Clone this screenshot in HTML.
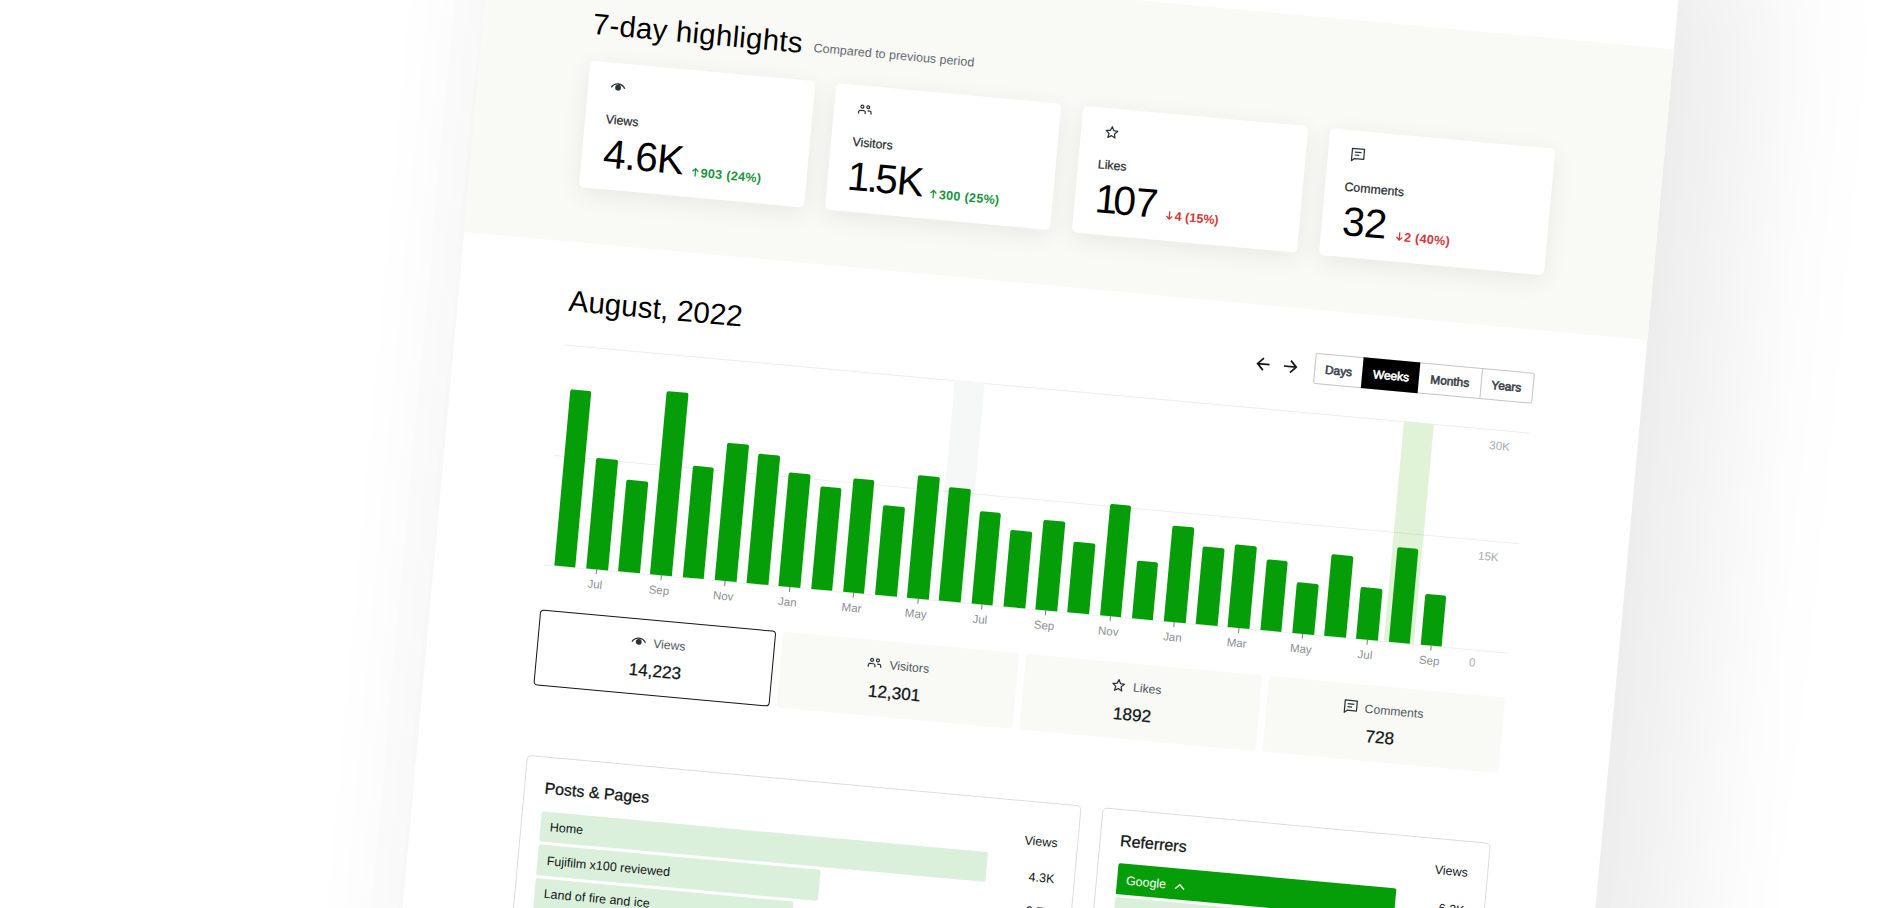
<!DOCTYPE html>
<html><head><meta charset="utf-8"><title>Stats</title>
<style>
html,body{margin:0;padding:0}
body{width:1891px;height:908px;overflow:hidden;background:#fff;position:relative;font-family:"Liberation Sans",Arial,sans-serif}
#p{position:absolute;left:0;top:0;width:0;height:0;transform-origin:0 0;transform:translate(491.594px,-66.856px) rotate(5.22deg)}
.b{position:absolute}
.t{position:absolute;white-space:nowrap}
.ic{display:block}
.ar{display:inline-block;vertical-align:baseline;margin-right:1.500px;position:relative;top:0.300px}
.row{display:flex;align-items:center;justify-content:center}
.ici{display:block;width:20px;height:20px}
svg{overflow:visible}
</style></head><body>
<div id="p">
<div class="b" style="left:0.00px;top:-120.00px;width:1188.00px;height:1300.00px;background:#fff;box-shadow:80px 10px 140px rgba(0,0,0,0.08),-30px 0 80px rgba(0,0,0,0.03);"></div>
<div class="b" style="left:0.00px;top:8.00px;width:1188.00px;height:292.00px;background:#f9f9f6;"></div>
<div class="t " style="top:66.11px;font-size:29.4px;line-height:29.4px;color:#000;font-weight:400;letter-spacing:0.3px;left:109.20px;">7-day highlights</div>
<div class="t " style="top:79.42px;font-size:12.5px;line-height:12.5px;color:#646970;font-weight:400;left:331.20px;">Compared to previous period</div>
<div class="b" style="left:109.50px;top:118.40px;width:226.00px;height:126.20px;background:#fff;border-radius:5px;box-shadow:0 6px 24px rgba(0,0,0,0.07);"></div>
<div class="b" style="left:130.20px;top:131.80px;width:20px;height:20px;color:#2c3338"><svg class="ic" viewBox="0 0 24 24" width="20" height="20"><path d="M3.9 12.9C5.6 9.9 8.5 8 12 8s6.400 1.900 8.100 4.900" fill="none" stroke="currentColor" stroke-width="1.6" stroke-linecap="butt"/><circle cx="12" cy="12.5" r="3.5" fill="currentColor"/></svg></div>
<div class="t " style="top:168.55px;font-size:12.35px;line-height:12.35px;color:#23282d;font-weight:400;left:130.70px;-webkit-text-stroke:0.2px #23282d;">Views</div>
<div class="t" style="left:131.40px;top:188.83px;font-size:40.6px;line-height:40.6px;color:#000;white-space:nowrap"><span style="letter-spacing:-0.8px">4.6K</span><span style="font-size:12.6px;font-weight:700;color:#1a933c;letter-spacing:0.3px;margin-left:9.5px;position:relative;top:1.3px"><svg class="ar" viewBox="0 0 8 10" width="7.4" height="9.2"><path d="M4 9.600V1.200M0.800 4.300L4 1.100L7.200 4.300" fill="none" stroke="currentColor" stroke-width="1.400"/></svg>903 (24%)</span></div>
<div class="b" style="left:357.17px;top:118.40px;width:226.00px;height:126.20px;background:#fff;border-radius:5px;box-shadow:0 6px 24px rgba(0,0,0,0.07);"></div>
<div class="b" style="left:377.87px;top:131.80px;width:20px;height:20px;color:#2c3338"><svg class="ic" viewBox="0 0 24 24" width="20" height="20"><path fill="currentColor" fill-rule="evenodd" d="M15.5 9.5a1 1 0 100-2 1 1 0 000 2zm0 1.5a2.5 2.5 0 100-5 2.500 2.500 0 000 5zm-2.250 6v-2a2.750 2.750 0 00-2.750-2.750h-4A2.750 2.750 0 003.750 15v2h1.500v-2c0-.690.560-1.250 1.250-1.250h4c.690 0 1.250.560 1.250 1.250v2h1.500zm7-2v2h-1.500v-2c0-.690-.560-1.250-1.250-1.250H15v-1.500h2.500A2.750 2.750 0 0120.250 15zM9.500 8.500a1 1 0 11-2 0 1 1 0 012 0zm1.500 0a2.500 2.500 0 11-5 0 2.500 2.500 0 015 0z"/></svg></div>
<div class="t " style="top:168.55px;font-size:12.35px;line-height:12.35px;color:#23282d;font-weight:400;left:378.47px;-webkit-text-stroke:0.2px #23282d;">Visitors</div>
<div class="t" style="left:379.07px;top:188.83px;font-size:40.6px;line-height:40.6px;color:#000;white-space:nowrap"><span style="letter-spacing:-1px"><span style="margin-left:-2.500px;margin-right:0.500px">1</span><span style="margin:0 -2.200px">.</span>5K</span><span style="font-size:12.6px;font-weight:700;color:#1a933c;letter-spacing:0.3px;margin-left:8.2px;position:relative;top:1.3px"><svg class="ar" viewBox="0 0 8 10" width="7.4" height="9.2"><path d="M4 9.600V1.200M0.800 4.300L4 1.100L7.200 4.300" fill="none" stroke="currentColor" stroke-width="1.400"/></svg>300 (25%)</span></div>
<div class="b" style="left:604.84px;top:118.40px;width:226.00px;height:126.20px;background:#fff;border-radius:5px;box-shadow:0 6px 24px rgba(0,0,0,0.07);"></div>
<div class="b" style="left:625.54px;top:131.80px;width:20px;height:20px;color:#2c3338"><svg class="ic" viewBox="0 0 24 24" width="20" height="20"><path d="M11.80 5.20L13.83 9.71L18.74 10.24L15.08 13.57L16.09 18.41L11.80 15.95L7.51 18.41L8.52 13.57L4.86 10.24L9.77 9.71Z" fill="none" stroke="currentColor" stroke-width="1.5" stroke-linejoin="round"/></svg></div>
<div class="t " style="top:168.55px;font-size:12.35px;line-height:12.35px;color:#23282d;font-weight:400;left:624.84px;-webkit-text-stroke:0.2px #23282d;">Likes</div>
<div class="t" style="left:626.74px;top:188.83px;font-size:40.6px;line-height:40.6px;color:#000;white-space:nowrap"><span style="letter-spacing:-0.5px"><span style="margin-left:-1.500px;margin-right:-3.800px">1</span>07</span><span style="font-size:12.6px;font-weight:700;color:#d63638;letter-spacing:0.0px;margin-left:9.5px;position:relative;top:1.3px"><svg class="ar" viewBox="0 0 8 10" width="7.4" height="9.2"><path d="M4 0.400V8.800M0.800 5.700L4 8.900L7.200 5.700" fill="none" stroke="currentColor" stroke-width="1.400"/></svg>4 (15%)</span></div>
<div class="b" style="left:852.51px;top:118.40px;width:226.00px;height:126.20px;background:#fff;border-radius:5px;box-shadow:0 6px 24px rgba(0,0,0,0.07);"></div>
<div class="b" style="left:873.21px;top:131.80px;width:20px;height:20px;color:#2c3338"><svg class="ic" viewBox="0 0 24 24" width="20" height="20"><path d="M4.750 4.750H19.250V16.750H8L4.750 19.600Z" fill="none" stroke="currentColor" stroke-width="1.5" stroke-linejoin="round"/><path d="M8 9H16M8 12.500H13.500" fill="none" stroke="currentColor" stroke-width="1.5"/></svg></div>
<div class="t " style="top:168.55px;font-size:12.35px;line-height:12.35px;color:#23282d;font-weight:400;left:872.51px;-webkit-text-stroke:0.2px #23282d;">Comments</div>
<div class="t" style="left:873.51px;top:188.83px;font-size:40.6px;line-height:40.6px;color:#000;white-space:nowrap"><span style="letter-spacing:-0.3px">32</span><span style="font-size:12.6px;font-weight:700;color:#d63638;letter-spacing:0.3px;margin-left:9.5px;position:relative;top:1.3px"><svg class="ar" viewBox="0 0 8 10" width="7.4" height="9.2"><path d="M4 0.400V8.800M0.800 5.700L4 8.900L7.200 5.700" fill="none" stroke="currentColor" stroke-width="1.400"/></svg>2 (40%)</span></div>
<div class="t " style="top:343.94px;font-size:29.6px;line-height:29.6px;color:#000;font-weight:400;left:110.50px;">August, 2022</div>
<div class="b" style="left:858.70px;top:343.40px;width:220.00px;height:30.90px;border:1px solid #c3c4c7;border-radius:2px;box-sizing:border-box;background:#fff;"></div>
<div class="b" style="left:906.50px;top:343.40px;width:57.50px;height:30.90px;background:#000;"></div>
<div class="b" style="left:1025.70px;top:343.40px;width:1.00px;height:30.90px;background:#c3c4c7;"></div>
<div class="t " style="top:353.93px;font-size:11.9px;line-height:11.9px;color:#3c434a;font-weight:400;left:883.40px;transform:translateX(-50%);-webkit-text-stroke:0.6px #3c434a;">Days</div>
<div class="t " style="top:353.93px;font-size:11.9px;line-height:11.9px;color:#fff;font-weight:400;left:936.00px;transform:translateX(-50%);-webkit-text-stroke:0.6px #fff;">Weeks</div>
<div class="t " style="top:353.93px;font-size:11.9px;line-height:11.9px;color:#3c434a;font-weight:400;left:995.00px;transform:translateX(-50%);-webkit-text-stroke:0.6px #3c434a;">Months</div>
<div class="t " style="top:353.93px;font-size:11.9px;line-height:11.9px;color:#3c434a;font-weight:400;left:1051.80px;transform:translateX(-50%);-webkit-text-stroke:0.6px #3c434a;">Years</div>
<div class="b" style="left:797.40px;top:349.00px;width:20px;height:20px"><svg viewBox="0 0 20 20" width="20" height="20"><path d="M17 10H5.200M10.800 4L5 10L10.800 16" fill="none" stroke="#101517" stroke-width="1.700"/></svg></div>
<div class="b" style="left:824.40px;top:349.00px;width:20px;height:20px"><svg viewBox="0 0 20 20" width="20" height="20"><path d="M4.400 10H16.500M11 4L16.800 10L11 16" fill="none" stroke="#101517" stroke-width="1.700"/></svg></div>
<div class="b" style="left:110.00px;top:403.00px;width:968.50px;height:1.00px;background:#ededed;"></div>
<div class="b" style="left:502.00px;top:403.20px;width:30.20px;height:221.10px;background:#f6f7f7;"></div>
<div class="b" style="left:953.40px;top:403.20px;width:29.90px;height:221.10px;background:#e0f3d6;"></div>
<div class="b" style="left:110.00px;top:513.80px;width:968.50px;height:1.00px;background:rgba(0,0,0,0.07);"></div>
<div class="b" style="left:110.00px;top:623.80px;width:968.50px;height:1.00px;background:rgba(0,0,0,0.07);"></div>
<div class="b" style="left:119.70px;top:446.80px;width:21.70px;height:177.50px;background:#069e08;border-radius:2px 2px 0 0;"></div>
<div class="b" style="left:151.93px;top:512.50px;width:21.70px;height:111.80px;background:#069e08;border-radius:2px 2px 0 0;"></div>
<div class="b" style="left:162.28px;top:624.30px;width:1.00px;height:4.60px;background:#787c82;"></div>
<div class="t " style="top:634.27px;font-size:11.5px;line-height:11.5px;color:#8c8f94;font-weight:400;left:162.08px;transform:translateX(-50%);">Jul</div>
<div class="b" style="left:184.15px;top:531.50px;width:21.70px;height:92.80px;background:#069e08;border-radius:2px 2px 0 0;"></div>
<div class="b" style="left:216.38px;top:439.70px;width:21.70px;height:184.60px;background:#069e08;border-radius:2px 2px 0 0;"></div>
<div class="b" style="left:226.72px;top:624.30px;width:1.00px;height:4.60px;background:#787c82;"></div>
<div class="t " style="top:634.27px;font-size:11.5px;line-height:11.5px;color:#8c8f94;font-weight:400;left:226.53px;transform:translateX(-50%);">Sep</div>
<div class="b" style="left:248.60px;top:512.10px;width:21.70px;height:112.20px;background:#069e08;border-radius:2px 2px 0 0;"></div>
<div class="b" style="left:280.82px;top:486.30px;width:21.70px;height:138.00px;background:#069e08;border-radius:2px 2px 0 0;"></div>
<div class="b" style="left:291.18px;top:624.30px;width:1.00px;height:4.60px;background:#787c82;"></div>
<div class="t " style="top:634.27px;font-size:11.5px;line-height:11.5px;color:#8c8f94;font-weight:400;left:290.98px;transform:translateX(-50%);">Nov</div>
<div class="b" style="left:313.05px;top:493.90px;width:21.70px;height:130.40px;background:#069e08;border-radius:2px 2px 0 0;"></div>
<div class="b" style="left:345.28px;top:510.00px;width:21.70px;height:114.30px;background:#069e08;border-radius:2px 2px 0 0;"></div>
<div class="b" style="left:355.63px;top:624.30px;width:1.00px;height:4.60px;background:#787c82;"></div>
<div class="t " style="top:634.27px;font-size:11.5px;line-height:11.5px;color:#8c8f94;font-weight:400;left:355.43px;transform:translateX(-50%);">Jan</div>
<div class="b" style="left:377.50px;top:521.00px;width:21.70px;height:103.30px;background:#069e08;border-radius:2px 2px 0 0;"></div>
<div class="b" style="left:409.73px;top:510.00px;width:21.70px;height:114.30px;background:#069e08;border-radius:2px 2px 0 0;"></div>
<div class="b" style="left:420.08px;top:624.30px;width:1.00px;height:4.60px;background:#787c82;"></div>
<div class="t " style="top:634.27px;font-size:11.5px;line-height:11.5px;color:#8c8f94;font-weight:400;left:419.88px;transform:translateX(-50%);">Mar</div>
<div class="b" style="left:441.95px;top:533.80px;width:21.70px;height:90.50px;background:#069e08;border-radius:2px 2px 0 0;"></div>
<div class="b" style="left:474.18px;top:501.10px;width:21.70px;height:123.20px;background:#069e08;border-radius:2px 2px 0 0;"></div>
<div class="b" style="left:484.53px;top:624.30px;width:1.00px;height:4.60px;background:#787c82;"></div>
<div class="t " style="top:634.27px;font-size:11.5px;line-height:11.5px;color:#8c8f94;font-weight:400;left:484.33px;transform:translateX(-50%);">May</div>
<div class="b" style="left:506.40px;top:509.50px;width:21.70px;height:114.80px;background:#069e08;border-radius:2px 2px 0 0;"></div>
<div class="b" style="left:538.62px;top:530.90px;width:21.70px;height:93.40px;background:#069e08;border-radius:2px 2px 0 0;"></div>
<div class="b" style="left:548.98px;top:624.30px;width:1.00px;height:4.60px;background:#787c82;"></div>
<div class="t " style="top:634.27px;font-size:11.5px;line-height:11.5px;color:#8c8f94;font-weight:400;left:548.77px;transform:translateX(-50%);">Jul</div>
<div class="b" style="left:570.85px;top:546.60px;width:21.70px;height:77.70px;background:#069e08;border-radius:2px 2px 0 0;"></div>
<div class="b" style="left:603.08px;top:533.70px;width:21.70px;height:90.60px;background:#069e08;border-radius:2px 2px 0 0;"></div>
<div class="b" style="left:613.43px;top:624.30px;width:1.00px;height:4.60px;background:#787c82;"></div>
<div class="t " style="top:634.27px;font-size:11.5px;line-height:11.5px;color:#8c8f94;font-weight:400;left:613.23px;transform:translateX(-50%);">Sep</div>
<div class="b" style="left:635.30px;top:553.40px;width:21.70px;height:70.90px;background:#069e08;border-radius:2px 2px 0 0;"></div>
<div class="b" style="left:667.53px;top:512.10px;width:21.70px;height:112.20px;background:#069e08;border-radius:2px 2px 0 0;"></div>
<div class="b" style="left:677.88px;top:624.30px;width:1.00px;height:4.60px;background:#787c82;"></div>
<div class="t " style="top:634.27px;font-size:11.5px;line-height:11.5px;color:#8c8f94;font-weight:400;left:677.68px;transform:translateX(-50%);">Nov</div>
<div class="b" style="left:699.75px;top:566.20px;width:21.70px;height:58.10px;background:#069e08;border-radius:2px 2px 0 0;"></div>
<div class="b" style="left:731.98px;top:528.20px;width:21.70px;height:96.10px;background:#069e08;border-radius:2px 2px 0 0;"></div>
<div class="b" style="left:742.33px;top:624.30px;width:1.00px;height:4.60px;background:#787c82;"></div>
<div class="t " style="top:634.27px;font-size:11.5px;line-height:11.5px;color:#8c8f94;font-weight:400;left:742.12px;transform:translateX(-50%);">Jan</div>
<div class="b" style="left:764.20px;top:546.30px;width:21.70px;height:78.00px;background:#069e08;border-radius:2px 2px 0 0;"></div>
<div class="b" style="left:796.43px;top:541.20px;width:21.70px;height:83.10px;background:#069e08;border-radius:2px 2px 0 0;"></div>
<div class="b" style="left:806.78px;top:624.30px;width:1.00px;height:4.60px;background:#787c82;"></div>
<div class="t " style="top:634.27px;font-size:11.5px;line-height:11.5px;color:#8c8f94;font-weight:400;left:806.58px;transform:translateX(-50%);">Mar</div>
<div class="b" style="left:828.65px;top:553.40px;width:21.70px;height:70.90px;background:#069e08;border-radius:2px 2px 0 0;"></div>
<div class="b" style="left:860.88px;top:572.50px;width:21.70px;height:51.80px;background:#069e08;border-radius:2px 2px 0 0;"></div>
<div class="b" style="left:871.23px;top:624.30px;width:1.00px;height:4.60px;background:#787c82;"></div>
<div class="t " style="top:634.27px;font-size:11.5px;line-height:11.5px;color:#8c8f94;font-weight:400;left:871.03px;transform:translateX(-50%);">May</div>
<div class="b" style="left:893.10px;top:541.50px;width:21.70px;height:82.80px;background:#069e08;border-radius:2px 2px 0 0;"></div>
<div class="b" style="left:925.33px;top:572.20px;width:21.70px;height:52.10px;background:#069e08;border-radius:2px 2px 0 0;"></div>
<div class="b" style="left:935.68px;top:624.30px;width:1.00px;height:4.60px;background:#787c82;"></div>
<div class="t " style="top:634.27px;font-size:11.5px;line-height:11.5px;color:#8c8f94;font-weight:400;left:935.48px;transform:translateX(-50%);">Jul</div>
<div class="b" style="left:957.55px;top:529.00px;width:21.70px;height:95.30px;background:#069e08;border-radius:2px 2px 0 0;"></div>
<div class="b" style="left:989.78px;top:573.10px;width:21.70px;height:51.20px;background:#069e08;border-radius:2px 2px 0 0;"></div>
<div class="b" style="left:1000.13px;top:624.30px;width:1.00px;height:4.60px;background:#787c82;"></div>
<div class="t " style="top:634.27px;font-size:11.5px;line-height:11.5px;color:#8c8f94;font-weight:400;left:999.93px;transform:translateX(-50%);">Sep</div>
<div class="t " style="top:414.07px;font-size:11.5px;line-height:11.5px;color:#a7aaad;font-weight:400;left:1050.50px;transform:translateX(-50%);">30K</div>
<div class="t " style="top:524.77px;font-size:11.5px;line-height:11.5px;color:#a7aaad;font-weight:400;left:1049.40px;transform:translateX(-50%);">15K</div>
<div class="t " style="top:631.77px;font-size:11.5px;line-height:11.5px;color:#a7aaad;font-weight:400;left:1043.00px;transform:translateX(-50%);">0</div>
<div class="b" style="left:110.00px;top:668.50px;width:236.80px;height:76.00px;background:#fff;border:1.8px solid #101517;border-radius:4px;box-sizing:border-box;"></div>
<div class="b row" style="left:111.10px;top:681.80px;width:237px;height:20px;color:#2c3338"><span class="ici"><svg class="ic" viewBox="0 0 24 24" width="20" height="20"><path d="M3.9 12.9C5.6 9.9 8.5 8 12 8s6.400 1.900 8.100 4.900" fill="none" stroke="currentColor" stroke-width="1.6" stroke-linecap="butt"/><circle cx="12" cy="12.5" r="3.5" fill="currentColor"/></svg></span><span style="font-size:12.2px;color:#50575e;margin-left:4.500px;position:relative;top:1.500px">Views</span></div>
<div class="t " style="top:711.84px;font-size:17.2px;line-height:17.2px;color:#101517;font-weight:400;left:229.80px;transform:translateX(-50%);-webkit-text-stroke:0.25px #101517;">14,223</div>
<div class="b" style="left:354.00px;top:668.50px;width:236.60px;height:76.00px;background:#f9f9f6;border-radius:4px;"></div>
<div class="b row" style="left:352.00px;top:681.80px;width:237px;height:20px;color:#2c3338"><span class="ici"><svg class="ic" viewBox="0 0 24 24" width="20" height="20"><path fill="currentColor" fill-rule="evenodd" d="M15.5 9.5a1 1 0 100-2 1 1 0 000 2zm0 1.5a2.5 2.5 0 100-5 2.500 2.500 0 000 5zm-2.250 6v-2a2.750 2.750 0 00-2.750-2.750h-4A2.750 2.750 0 003.750 15v2h1.500v-2c0-.690.560-1.250 1.250-1.250h4c.690 0 1.250.560 1.250 1.250v2h1.500zm7-2v2h-1.500v-2c0-.690-.560-1.250-1.250-1.250H15v-1.500h2.500A2.750 2.750 0 0120.250 15zM9.500 8.500a1 1 0 11-2 0 1 1 0 012 0zm1.500 0a2.500 2.500 0 11-5 0 2.500 2.500 0 015 0z"/></svg></span><span style="font-size:12.2px;color:#50575e;margin-left:4.500px;position:relative;top:1.500px">Visitors</span></div>
<div class="t " style="top:711.84px;font-size:17.2px;line-height:17.2px;color:#101517;font-weight:400;left:470.00px;transform:translateX(-50%);-webkit-text-stroke:0.25px #101517;">12,301</div>
<div class="b" style="left:598.00px;top:668.50px;width:236.60px;height:76.00px;background:#f9f9f6;border-radius:4px;"></div>
<div class="b row" style="left:591.00px;top:681.80px;width:237px;height:20px;color:#2c3338"><span class="ici"><svg class="ic" viewBox="0 0 24 24" width="20" height="20"><path d="M11.80 5.20L13.83 9.71L18.74 10.24L15.08 13.57L16.09 18.41L11.80 15.95L7.51 18.41L8.52 13.57L4.86 10.24L9.77 9.71Z" fill="none" stroke="currentColor" stroke-width="1.5" stroke-linejoin="round"/></svg></span><span style="font-size:12.2px;color:#50575e;margin-left:4.500px;position:relative;top:1.500px">Likes</span></div>
<div class="t " style="top:711.84px;font-size:17.2px;line-height:17.2px;color:#101517;font-weight:400;left:709.00px;transform:translateX(-50%);-webkit-text-stroke:0.25px #101517;">1892</div>
<div class="b" style="left:842.00px;top:668.50px;width:236.60px;height:76.00px;background:#f9f9f6;border-radius:4px;"></div>
<div class="b row" style="left:838.80px;top:681.80px;width:237px;height:20px;color:#2c3338"><span class="ici"><svg class="ic" viewBox="0 0 24 24" width="20" height="20"><path d="M4.750 4.750H19.250V16.750H8L4.750 19.600Z" fill="none" stroke="currentColor" stroke-width="1.5" stroke-linejoin="round"/><path d="M8 9H16M8 12.500H13.500" fill="none" stroke="currentColor" stroke-width="1.5"/></svg></span><span style="font-size:12.2px;color:#50575e;margin-left:4.500px;position:relative;top:1.500px">Comments</span></div>
<div class="t " style="top:711.84px;font-size:17.2px;line-height:17.2px;color:#101517;font-weight:400;left:957.70px;transform:translateX(-50%);-webkit-text-stroke:0.25px #101517;">728</div>
<div class="b" style="left:110.00px;top:814.50px;width:557.00px;height:300.00px;border:1px solid #dcdcde;border-radius:5px;box-sizing:border-box;background:#fff;"></div>
<div class="t " style="top:839.26px;font-size:16px;line-height:16px;color:#101517;font-weight:400;left:130.60px;-webkit-text-stroke:0.3px #101517;">Posts &amp; Pages</div>
<div class="b" style="left:130.00px;top:869.50px;width:447.50px;height:30.40px;background:#dbf0db;border-radius:2px;"></div>
<div class="t " style="top:878.82px;font-size:12.5px;line-height:12.5px;color:#101517;font-weight:400;left:139.40px;">Home</div>
<div class="b" style="left:130.00px;top:903.20px;width:283.40px;height:30.40px;background:#dbf0db;border-radius:2px;"></div>
<div class="t " style="top:912.52px;font-size:12.5px;line-height:12.5px;color:#101517;font-weight:400;left:139.40px;">Fujifilm x100 reviewed</div>
<div class="b" style="left:130.00px;top:936.90px;width:258.60px;height:30.40px;background:#dbf0db;border-radius:2px;"></div>
<div class="t " style="top:946.22px;font-size:12.5px;line-height:12.5px;color:#101517;font-weight:400;left:139.40px;">Land of fire and ice</div>
<div class="t " style="top:849.42px;font-size:12.5px;line-height:12.5px;color:#101517;font-weight:400;right:-646.40px;">Views</div>
<div class="t " style="top:885.42px;font-size:12.5px;line-height:12.5px;color:#101517;font-weight:400;right:-646.50px;">4.3K</div>
<div class="t " style="top:919.12px;font-size:12.5px;line-height:12.5px;color:#101517;font-weight:400;right:-646.50px;">2.7K</div>
<div class="b" style="left:687.80px;top:814.50px;width:390.70px;height:300.00px;border:1px solid #dcdcde;border-radius:5px;box-sizing:border-box;background:#fff;"></div>
<div class="t " style="top:838.66px;font-size:16px;line-height:16px;color:#101517;font-weight:400;left:708.60px;-webkit-text-stroke:0.3px #101517;">Referrers</div>
<div class="b" style="left:708.50px;top:869.30px;width:279.00px;height:30.30px;background:#069e08;border-radius:2px 2px 0 0;"></div>
<div class="b" style="left:708.50px;top:903.00px;width:279.00px;height:60.00px;background:#dbf0db;"></div>
<div class="t " style="top:879.92px;font-size:12.5px;line-height:12.5px;color:#fff;font-weight:400;left:718.00px;">Google</div>
<div class="b" style="left:766.00px;top:879.30px;width:12px;height:12px"><svg viewBox="0 0 12 12" width="12" height="12"><path d="M1.500 8.500L6 4L10.500 8.500" fill="none" stroke="#fff" stroke-width="1.500"/></svg></div>
<div class="t " style="top:840.62px;font-size:12.5px;line-height:12.5px;color:#101517;font-weight:400;right:-1057.60px;">Views</div>
<div class="t " style="top:878.92px;font-size:12.5px;line-height:12.5px;color:#101517;font-weight:400;right:-1057.60px;">6.2K</div>
</div>
</body></html>
